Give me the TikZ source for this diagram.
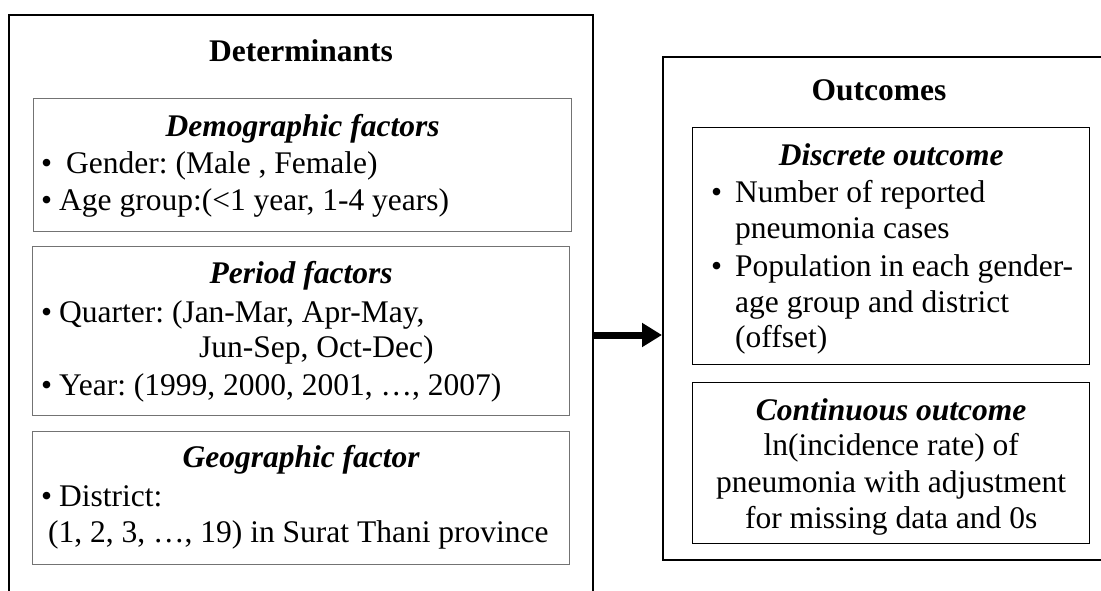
\documentclass[tikz,border=0pt]{standalone}
\usepackage{fontspec}
\setmainfont{Liberation Serif}
\usetikzlibrary{arrows.meta}
\newcommand{\bul}[1]{\makebox[#1][l]{\textbullet}}
\begin{document}
\frenchspacing
\begin{tikzpicture}[x=1pt, y=-1pt, font=\fontsize{31.5}{38}\selectfont, >={Triangle[length=20pt,width=23pt]}]
	\tikzset{outerbox/.style={draw, line width=2.2pt, anchor=north west, inner sep=0pt},
		leftbox/.style={draw=black!55, line width=1.2pt, anchor=north west, inner sep=0pt},
		rightbox/.style={draw, line width=1.4pt, anchor=north west, inner sep=0pt},
		txt/.style={anchor=base west, inner sep=0pt},
		title/.style={anchor=base, inner sep=0pt, font=\fontsize{31.5}{38}\selectfont\bfseries\itshape}}
	\clip (0,0) rectangle (1101,591);
	% outer boxes
	\node[outerbox, minimum width=584, minimum height=600] (det) at (8,14) {};
	\node[outerbox, minimum width=440, minimum height=503] (out) at (662,56) {};
	% inner boxes
	\node[leftbox, minimum width=538, minimum height=133] (demo) at (33,98) {};
	\node[leftbox, minimum width=537, minimum height=169] (period) at (32,246) {};
	\node[leftbox, minimum width=537, minimum height=133] (geo) at (32,431) {};
	\node[rightbox, minimum width=397, minimum height=237] (disc) at (692,127) {};
	\node[rightbox, minimum width=397, minimum height=161] (cont) at (692,382) {};
	% headings
	\node[title, font=\fontsize{31.5}{38}\selectfont\bfseries] (dethead) at (det.north |- 0,62) {Determinants};
	\node[title, font=\fontsize{31.5}{38}\selectfont\bfseries] (outhead) at (879,101) {Outcomes};
	\node[title] (demohead) at (demo.north |- 0,137) {Demographic factors};
	\node[title] (periodhead) at (period.north |- 0,283) {Period factors};
	\node[title] (geohead) at (geo.north |- 0,467) {Geographic factor};
	\node[title] (dischead) at (disc.north |- 0,166) {Discrete outcome};
	\node[title] (conthead) at (cont.north |- 0,420) {Continuous outcome};
	% list items
	\foreach \x/\y/\t [count=\i] in {
		41/174/{\bul{25pt}Gender: (Male , Female)},
		41/211/{\bul{18pt}Age group:(<1 year, 1-4 years)},
		41/322/{\bul{18pt}Quarter: (Jan-Mar, Apr-May,},
		199/357/{Jun-Sep, Oct-Dec)},
		41/395/{\bul{18pt}Year: (1999, 2000, 2001, …, 2007)},
		41/506/{\bul{18pt}District:},
		48/542/{(1, 2, 3, …, 19) in Surat Thani province},
		711/203/{\bul{24pt}Number of reported},
		735/238/{pneumonia cases},
		711/276/{\bul{24pt}Population in each gender-},
		735/312/{age group and district},
		735/347/{(offset)}}
	\node[txt] (item\i) at (\x,\y) {\t};
	\foreach \y/\t [count=\i] in {455/{ln(incidence rate) of},
		492/{pneumonia with adjustment}, 528/{for missing data and 0s}}
	\node[anchor=base, inner sep=0pt] (cline\i) at (cont.north |- 0,\y) {\t};
	% arrow
	\coordinate (ay) at (0,335);
	\draw[line width=7pt, ->] (det.east |- ay) -- (out.west |- ay);
\end{tikzpicture}
\end{document}
